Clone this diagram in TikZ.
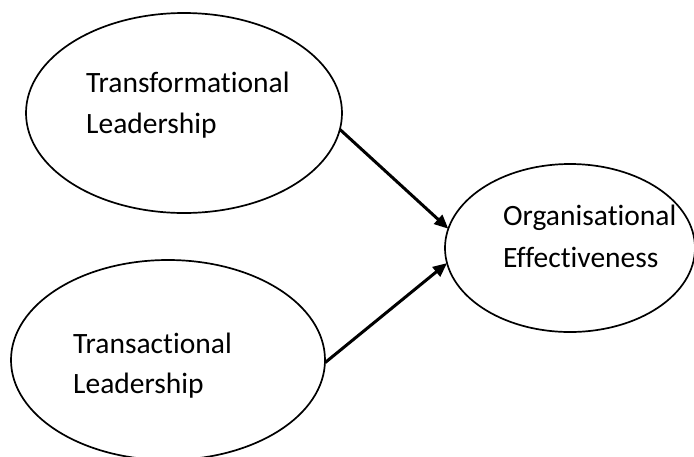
\documentclass[tikz,border=0pt]{standalone}
\usepackage{fontspec}
\setmainfont{Carlito}[Ligatures=NoCommon]
\usetikzlibrary{shapes.geometric,arrows.meta}
\begin{document}
\begin{tikzpicture}[x=1pt,y=-1pt,
  construct/.style={draw=black,line width=1.7pt,ellipse,inner sep=0pt,outer sep=0pt},
  caption/.style={anchor=base west,inner sep=0pt,font=\fontsize{29.5}{29.5}\selectfont},
  path/.style={line width=3pt,-{Triangle[length=14pt,width=12pt]}}]
  \useasboundingbox (0,0) rectangle (694,456);
  % the two leadership constructs and the outcome
  \node[construct,minimum width=316pt,minimum height=200pt] (tfl) at (184,113) {};
  \node[construct,minimum width=314pt,minimum height=200pt] (tsl) at (168,360) {};
  \node[construct,minimum width=250pt,minimum height=168pt] (oe) at (570,248) {};
  % labels
  \node[caption] (tflA) at (86,92) {Transformational};
  \node[caption] (tflB) at (86,133) {Leadership};
  \node[caption] (tslA) at (73,353) {Transactional};
  \node[caption] (tslB) at (73,393) {Leadership};
  \node[caption] (oeA) at (503,225) {Organisational};
  \node[caption] (oeB) at (503,267) {Effectiveness};
  % hypothesised paths
  \draw[path] (tfl.-6) -- (oe.171);
  \draw[path] (tsl.-1) -- (oe.187);
\end{tikzpicture}
\end{document}
